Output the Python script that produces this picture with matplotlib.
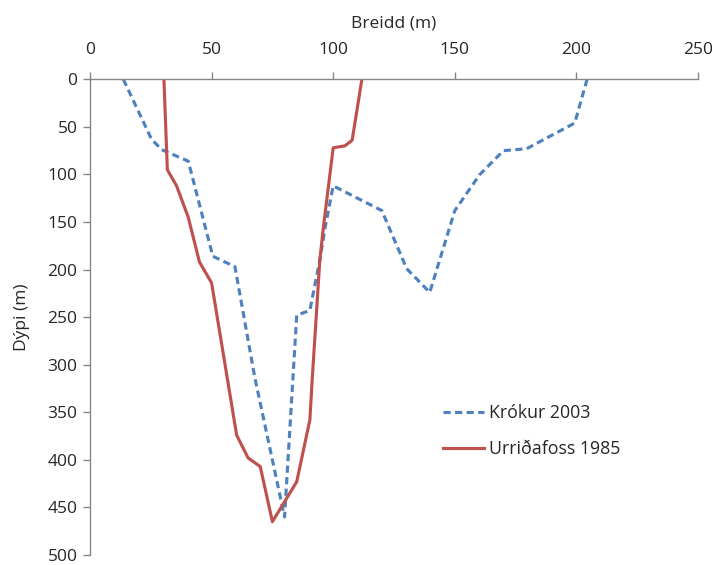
import matplotlib.pyplot as plt

# cross sections of the river channel: width (x) against depth (y)
krokur_x = [13.7, 25.3, 29.5, 40.4, 50.5, 59.6, 67.8, 80.0, 85.0, 90.4, 94.5, 96.6, 100.0,
            120.0, 130.2, 139.7, 150.0, 160.3, 170.0, 179.5, 199.3, 204.4]
krokur_y = [0, 63, 74, 86, 186, 197, 314, 460, 248, 243, 190, 157, 112,
            138, 199, 224, 138, 100, 75, 73, 46, 0]

urr_x = [30.4, 31.8, 35.6, 40.4, 45.0, 50.0, 60.3, 65.0, 70.0, 75.0, 85.0, 90.4, 91.4,
         94.5, 95.9, 100.0, 104.8, 107.8, 111.8]
urr_y = [0, 95, 112, 145, 192, 214, 374, 398, 407, 465, 423, 358, 314,
         190, 157, 72, 70, 64, 0]

xticks = [0, 50, 100, 150, 200, 250]
yticks = [0, 50, 100, 150, 200, 250, 300, 350, 400, 450, 500]

plt.rcParams['font.family'] = ['Open Sans', 'DejaVu Sans']

fig = plt.figure(figsize=(7.16, 5.65), dpi=100)
ax = fig.add_axes([90/716, 1-555/565, 608/716, 475.7/565])

ax.plot(krokur_x, krokur_y, color='#4F81BD', lw=2.25, linestyle=(0, (2.3, 1.4)),
        label='Krókur 2003')
ax.plot(urr_x, urr_y, color='#C0504D', lw=2.25, label='Urriðafoss 1985')

ax.set_xlim(0, 250)
ax.set_ylim(500, 0)
ax.set_xticks(xticks)
ax.set_yticks(yticks)
ax.xaxis.tick_top()
ax.xaxis.set_label_position('top')

grey = '#868686'
for s in ['right', 'bottom']:
    ax.spines[s].set_visible(False)
for s in ['left', 'top']:
    ax.spines[s].set_color(grey)
    ax.spines[s].set_linewidth(1.0)

ax.tick_params(axis='both', colors=grey, labelcolor='#262626', labelsize=12.5,
               length=5, width=1.0, direction='out')
ax.tick_params(axis='y', pad=4)
ax.tick_params(axis='x', pad=10)

ax.set_xlabel('Breidd (m)', fontsize=12.5, color='#262626', labelpad=10.5)
ax.set_ylabel('Dýpi (m)', fontsize=12.5, color='#262626', labelpad=12.5)

ax.legend(loc='upper left', bbox_to_anchor=(0.58, 0.317), frameon=False,
          fontsize=12.8, handlelength=2.3, handletextpad=0.3, labelspacing=1.0,
          borderpad=0, borderaxespad=0, labelcolor='#262626')

fig.savefig('out.png', dpi=100)
